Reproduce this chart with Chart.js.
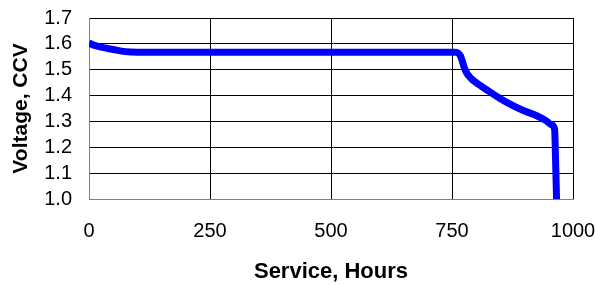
<!DOCTYPE html>
<html>
<head>
<meta charset="utf-8">
<script src="https://cdn.jsdelivr.net/npm/chart.js@4"></script>
<style>
  html, body { margin: 0; padding: 0; background: #fff; }
  #wrap { width: 595px; height: 285px; }
</style>
</head>
<body>
<div id="wrap"><canvas id="myChart" width="595" height="285"></canvas></div>
<script>
// Discharge curve
const hours = [0, 10, 25, 50, 75, 100, 300, 500, 700, 755, 762, 767, 771, 775, 780, 790, 800, 825, 850, 875, 900, 925, 945, 955, 962, 964, 966];
const voltage = [1.603, 1.595, 1.587, 1.578, 1.570, 1.568, 1.568, 1.568, 1.568, 1.568, 1.565, 1.555, 1.535, 1.510, 1.488, 1.465, 1.450, 1.418, 1.388, 1.362, 1.340, 1.322, 1.302, 1.288, 1.270, 1.150, 1.000];
const xTicks = [0, 250, 500, 750, 1000];

const tickFont = { family: 'Liberation Sans', size: 20 };
const titleFont = { family: 'Liberation Sans', size: 22, weight: 'bold' };

const ctx = document.getElementById('myChart').getContext('2d');
const myChart = new Chart(ctx, {
    type: 'line',
    data: {
        datasets: [{
            data: hours.map((h, i) => ({ x: h, y: voltage[i] })),
            borderColor: '#0000ff',
            borderWidth: 7,
            pointRadius: 0,
            cubicInterpolationMode: 'monotone',
            fill: false
        }]
    },
    options: {
        responsive: false,
        animation: false,
        layout: { padding: { left: 0, right: 22, top: 18, bottom: 0 } },
        plugins: { legend: { display: false }, tooltip: { enabled: false } },
        scales: {
            x: {
                type: 'linear',
                min: 0, max: 1000,
                afterBuildTicks: axis => { axis.ticks = xTicks.map(v => ({ value: v })); },
                grid: { color: '#000', lineWidth: 1, drawTicks: false },
                border: { color: '#808080', width: 1 },
                ticks: { color: '#000', font: tickFont, padding: 20, maxRotation: 0, autoSkip: false,
                    callback: v => String(v) },
                title: { display: true, text: 'Service, Hours', color: '#000', font: titleFont, padding: { top: 18, bottom: 0 } },
                afterFit: axis => { axis.height = 86; axis.paddingLeft = 0; axis.paddingRight = 0; }
            },
            y: {
                min: 1.0, max: 1.7,
                grid: { color: '#000', lineWidth: 1, drawTicks: false },
                border: { color: '#808080', width: 1 },
                ticks: { stepSize: 0.1, color: '#000', font: tickFont, padding: 17, autoSkip: false,
                    callback: v => v.toFixed(1) },
                title: { display: true, text: 'Voltage, CCV', color: '#000', font: { family: 'Liberation Sans', size: 21, weight: 'bold' }, padding: { top: 9, bottom: 0 } },
                afterFit: axis => { axis.width = 89; axis.paddingTop = 0; axis.paddingBottom = 0; }
            }
        }
    }
});
</script>
</body>
</html>
